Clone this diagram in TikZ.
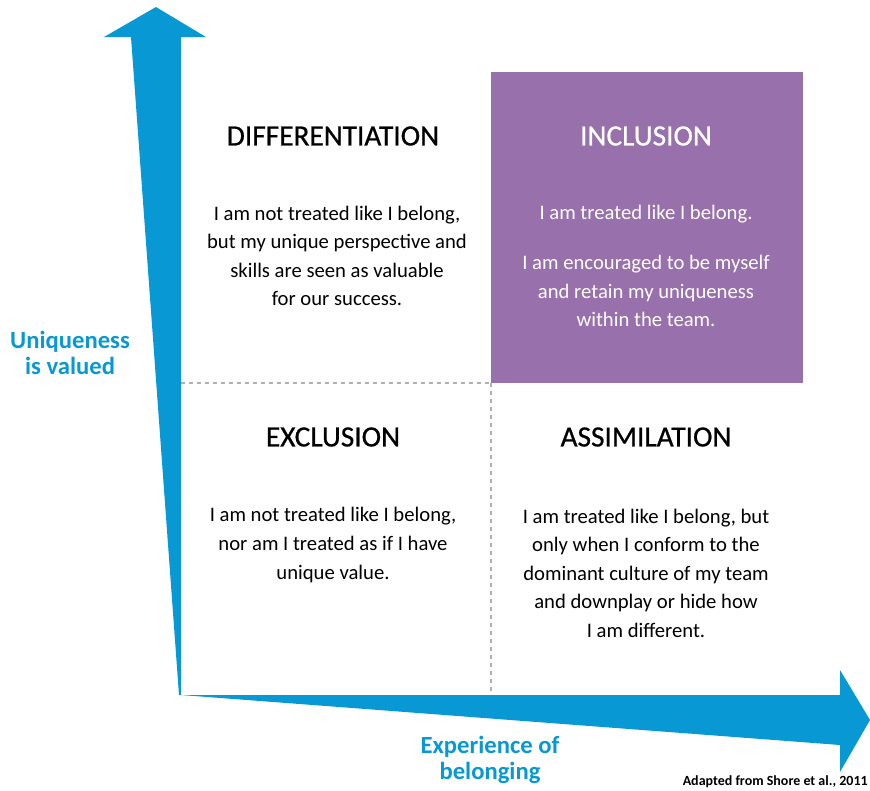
\documentclass[tikz,border=0pt]{standalone}
\usepackage{fontspec}
\setmainfont{Carlito}
\newfontface\titleface{Carlito}[FakeBold=0.7]
\usepackage{tikz}
\usetikzlibrary{positioning}

\definecolor{axisblue}{RGB}{8,152,212}
\definecolor{incpurple}{RGB}{152,112,172}
\definecolor{gridgray}{RGB}{176,176,176}

\begin{document}
\begin{tikzpicture}
            [x=0.75pt,y=-0.75pt,
             title/.style={font=\titleface\fontsize{22}{26}\selectfont, inner sep = 0pt, align = center},
             body/.style={font=\fontsize{15.5}{21.4}\selectfont, inner sep = 0pt, align = center},
             axislabel/.style={font=\fontsize{18.5}{20}\selectfont\bfseries, text=axisblue, inner sep = 0pt, align = center}]

            \useasboundingbox (0,0) rectangle (870,790);

            % corner points of the quadrants
            \coordinate (origin) at (181,695);
            \coordinate (mid) at (491,383);
            \coordinate (midleft) at (181,383);
            \coordinate (midbottom) at (491,695);

            % inclusion box
            \fill[incpurple] (491,72) rectangle (803,383);

            % dashed quadrant borders
            \draw[gridgray, dashed, line width=0.8pt] (midleft) -- (mid);
            \draw[gridgray, dashed, line width=0.8pt] (mid) -- (midbottom);

            % axes
            \fill[axisblue] (131,37) -- (104,37) -- (156,7) -- (206,37) -- (181,37) -- (origin) -- (179,695) -- cycle;
            \fill[axisblue] (origin) -- (840,695) -- (840,670) -- (870,720) -- (840,772) -- (840,745) -- cycle;

            \node[title] (diff) at (333,136) {DIFFERENTIATION};
            \node[body] (difftext) at (337,256)
            {I am not treated like I belong,\\ but my unique perspective and\\ skills are seen as valuable\\ for our success.};

            \node[title, text=white] (incl) at (646,136) {INCLUSION};
            \node[body, text=white] (incltext) at (646,214) {I am treated like I belong.};
            \node[body, text=white] (incltext2) at (646,291)
            {I am encouraged to be myself\\ and retain my uniqueness\\ within the team.};

            \node[title] (excl) at (333,437) {EXCLUSION};
            \node[body] (excltext) at (333,545)
            {I am not treated like I belong,\\ nor am I treated as if I have\\ unique value.};

            \node[title] (assim) at (646,437) {ASSIMILATION};
            \node[body] (assimtext) at (646,573)
            {I am treated like I belong, but\\ only when I conform to the\\ dominant culture of my team\\ and downplay or hide how\\ I am different.};

            \node[axislabel] (unique) at (70,353) {Uniqueness\\ is valued};
            \node[axislabel] (belong) at (490,760) {Experience of\\ belonging};

            \node[font=\fontsize{10.5}{12}\selectfont\bfseries, inner sep = 0pt, anchor=east] (credit) at (868,782) {Adapted from Shore et al., 2011};
        \end{tikzpicture}
\end{document}
